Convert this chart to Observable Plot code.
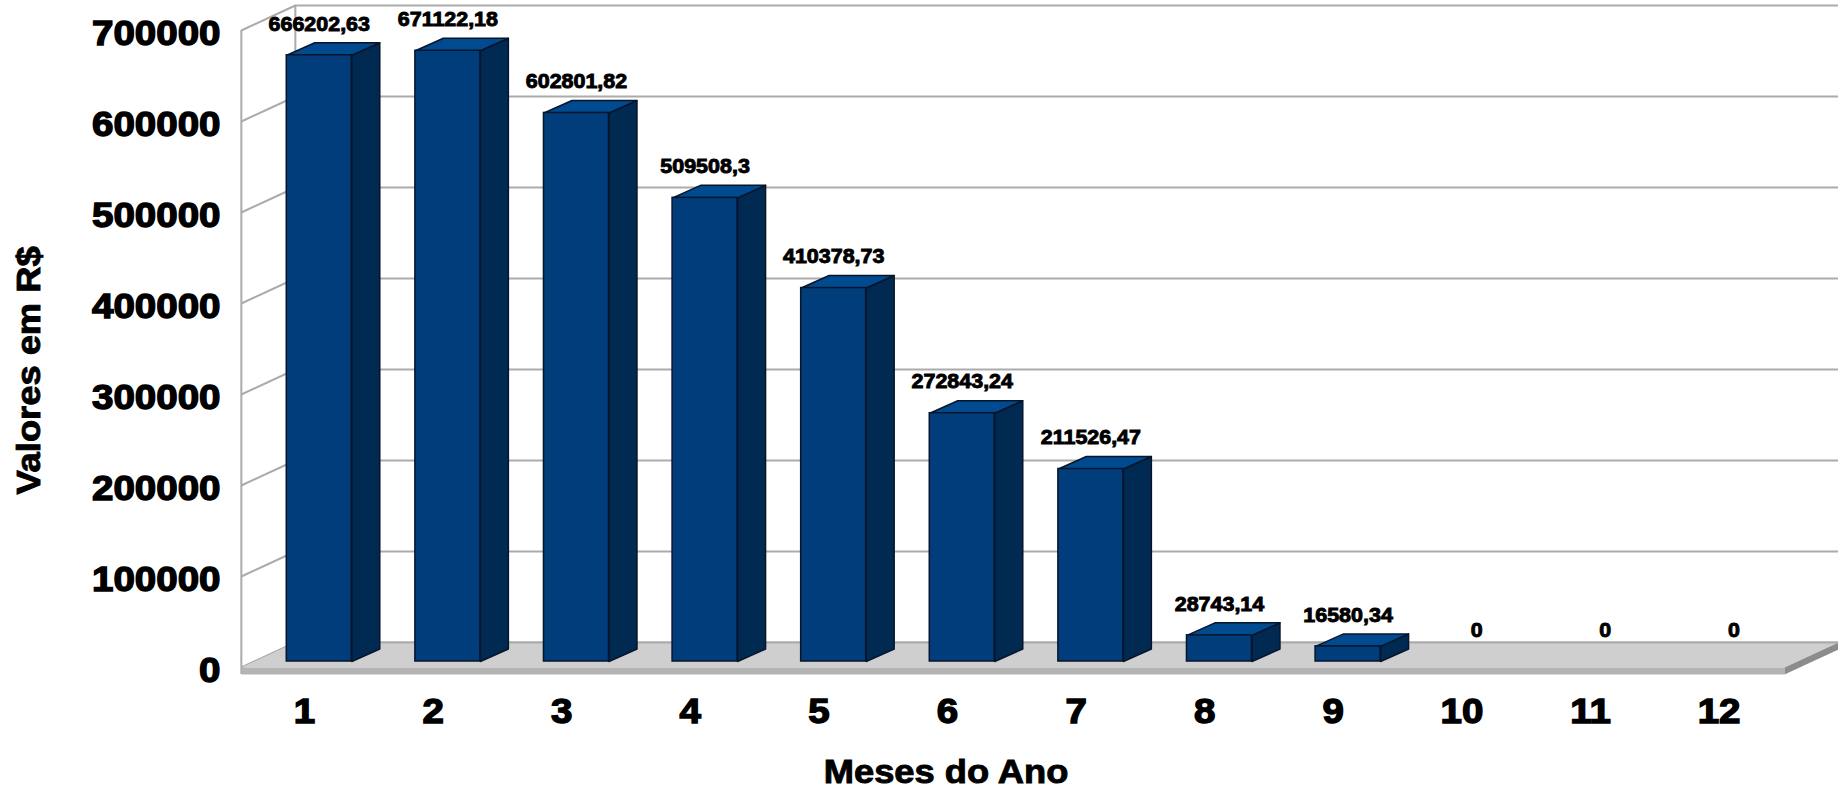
<!DOCTYPE html>
<html><head><meta charset="utf-8">
<script src="https://cdn.jsdelivr.net/npm/d3@7"></script>
<script src="https://cdn.jsdelivr.net/npm/@observablehq/plot@0.6"></script>
<style>
html,body{margin:0;padding:0;background:#fff}
svg text{stroke:#000;stroke-width:.9px;fill:#000}
svg g[aria-label="y-axis tick label"] text, svg g[aria-label="x-axis tick label"] text{stroke-width:1.4px}
</style></head><body><div id="c"></div>
<script>
const months=[1,2,3,4,5,6,7,8,9,10,11,12];
const values=[666202.63,671122.18,602801.82,509508.3,410378.73,272843.24,211526.47,28743.14,16580.34,0,0,0];
const yTicks=[0,100000,200000,300000,400000,500000,600000,700000];
const xTitle="Meses do Ano", yTitle="Valores em R$";

// projection constants of the fake 3D, in data units
const WALL_L=0.4, WALL_R=12.4, WALL_DX=0.42, WALL_DY=27473, SLAB=7692;
const HALF=0.2527, BAR_DX=0.2177, BAR_DY=13736, BASE=6593, BAR_SHIFT=0.006;
const xEnd=12.8196;

const data=months.map((m,i)=>({m,c:m+BAR_SHIFT,v:values[i]}));
const solid=data.filter(d=>d.v>0);
const poly=(rows,f)=>rows.flatMap((r,i)=>{const p=f(r);return [...p,p[0]].map(([x,y])=>({id:i,x,y}));});
const line=(rows,fill,stroke,strokeWidth)=>Plot.line(rows,{x:"x",y:"y",z:"id",fill,stroke,strokeWidth,strokeLinejoin:"round",curve:"linear"});

const chart=Plot.plot({
  width:1838,height:790,marginLeft:220,marginRight:0,marginTop:0,marginBottom:92,
  style:{background:"#fff",fontFamily:"'Liberation Sans',Arial,sans-serif",overflow:"visible"},
  x:{domain:[-1.4728,xEnd],range:[0,1838]},
  y:{domain:[0,700000],range:[667,30]},
  marks:[
    // walls
    Plot.ruleY(yTicks,{y:d=>d+WALL_DY,x1:WALL_L+WALL_DX,x2:xEnd,stroke:"#ababab",strokeWidth:2}),
    Plot.link(yTicks,{x1:WALL_L,y1:d=>d,x2:WALL_L+WALL_DX,y2:d=>d+WALL_DY,stroke:"#ababab",strokeWidth:2}),
    Plot.ruleX([WALL_L],{y1:-SLAB,y2:700000,stroke:"#ababab",strokeWidth:2}),
    Plot.ruleX([WALL_L+WALL_DX],{y1:WALL_DY,y2:700000+WALL_DY,stroke:"#ababab",strokeWidth:2}),
    // floor
    line(poly([0],()=>[[WALL_L,0],[WALL_R,0],[WALL_R+WALL_DX,WALL_DY],[WALL_L+WALL_DX,WALL_DY]]),"#cfcfcf","none",0),
    line(poly([0],()=>[[WALL_L,0],[WALL_R,0],[WALL_R,-SLAB],[WALL_L,-SLAB]]),"#b4b4b4","none",0),
    line(poly([0],()=>[[WALL_R,0],[WALL_R+WALL_DX,WALL_DY],[WALL_R+WALL_DX,WALL_DY-SLAB],[WALL_R,-SLAB]]),"#8c8c8c","none",0),
    Plot.ruleY([WALL_DY],{x1:WALL_L+WALL_DX,x2:xEnd,stroke:"#ababab",strokeWidth:2}),
    // bars: side, top, front
    line(poly(solid,d=>[[d.c+HALF,BASE],[d.c+HALF+BAR_DX,BASE+BAR_DY],[d.c+HALF+BAR_DX,BASE+d.v+BAR_DY],[d.c+HALF,BASE+d.v]]),"#002a52","#07152b",1.5),
    line(poly(solid,d=>[[d.c-HALF,BASE+d.v],[d.c+HALF,BASE+d.v],[d.c+HALF+BAR_DX,BASE+d.v+BAR_DY],[d.c-HALF+BAR_DX,BASE+d.v+BAR_DY]]),"#004a8f","#07152b",1.5),
    Plot.rect(solid,{x1:d=>d.c-HALF,x2:d=>d.c+HALF,y1:()=>BASE,y2:d=>BASE+d.v,fill:"#003d7a",stroke:"#07152b",strokeWidth:1.5}),
    // value labels
    Plot.text(data,{x:"c",y:d=>BASE+d.v,dy:-31,text:d=>String(d.v).replace(".",","),fontSize:19.5,fontWeight:"bold",textAnchor:"middle",lineAnchor:"middle"}),
    // axes
    Plot.axisY({ticks:yTicks,tickSize:0,tickPadding:0,tickFormat:"d",label:null,fontSize:35,fontWeight:"bold",dy:3}),
    Plot.axisX({ticks:months,tickSize:0,tickPadding:0,tickFormat:"d",label:null,fontSize:35,fontWeight:"bold",dx:-14}),
    Plot.text([xTitle],{x:[5.88],y:[-115384],text:d=>d,fontSize:33,fontWeight:"bold",textAnchor:"middle",lineAnchor:"middle"}),
    Plot.text([yTitle],{x:[-1.247],y:[326373],text:d=>d,fontSize:33,fontWeight:"bold",rotate:-90,textAnchor:"middle",lineAnchor:"middle"})
  ]
});
document.getElementById("c").appendChild(chart);
chart.querySelectorAll("text").forEach(t=>{
  const n=t.getComputedTextLength();
  t.setAttribute("textLength",(n*1.1).toFixed(1));
  t.setAttribute("lengthAdjust","spacingAndGlyphs");
});
</script></body></html>
